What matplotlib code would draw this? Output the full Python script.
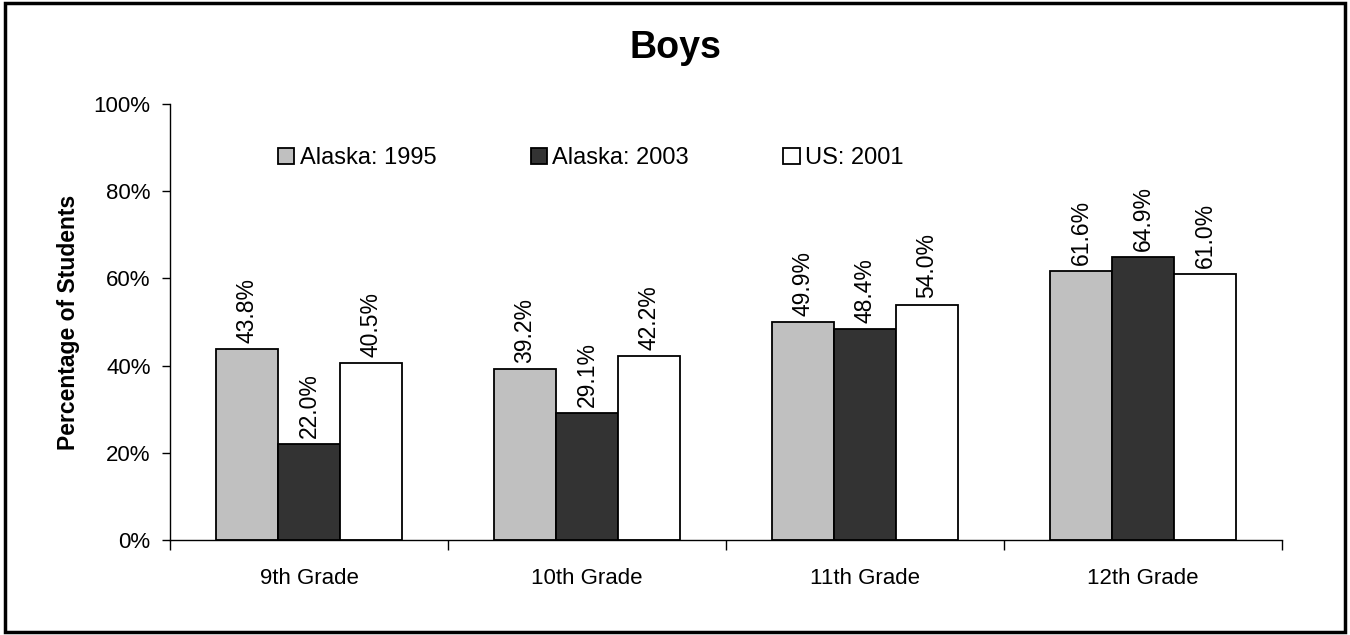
import numpy as np
import matplotlib
matplotlib.use('Agg')
import matplotlib.pyplot as plt
from matplotlib.patches import Rectangle

plt.rcParams['font.family'] = ['Liberation Sans', 'DejaVu Sans']

grades = ['9th Grade', '10th Grade', '11th Grade', '12th Grade']
series_names = ['Alaska: 1995', 'Alaska: 2003', 'US: 2001']
ak_1995 = [43.8, 39.2, 49.9, 61.6]
ak_2003 = [22.0, 29.1, 48.4, 64.9]
us_2001 = [40.5, 42.2, 54.0, 61.0]
colors = ['#C0C0C0', '#333333', '#FFFFFF']

fig = plt.figure(figsize=(13.5, 6.35), dpi=100)
ax = fig.add_axes([0.1259, 0.1496, 0.8237, 0.6866])

# border round the whole picture
fig.patches.append(Rectangle((0.004, 0.005), 0.992, 0.99, transform=fig.transFigure,
                             fill=False, edgecolor='black', linewidth=2.5))

centers = np.arange(len(grades)) + 0.5
w = 0.223
for k, (vals, name) in enumerate(zip([ak_1995, ak_2003, us_2001], series_names)):
    xs = centers + (k - 1) * w
    ax.bar(xs, vals, width=w, color=colors[k], edgecolor='black', linewidth=1.3, label=name)
    for x, v in zip(xs, vals):
        ax.text(x, v + 1.4, '%.1f%%' % v, rotation=90, ha='center', va='bottom', fontsize=16.5)

ax.set_xlim(0, 4)
ax.set_ylim(0, 100)
ax.set_yticks(np.arange(0, 101, 20))
ax.set_yticklabels(['%d%%' % t for t in range(0, 101, 20)], fontsize=16)
ax.tick_params(axis='y', direction='out', length=6, width=1, pad=8)

ax.set_xticks(np.arange(0, 5))
ax.set_xticklabels([])
ax.tick_params(axis='x', which='major', direction='out', length=7, width=1)
ax.set_xticks(centers, minor=True)
ax.set_xticklabels(grades, minor=True, fontsize=16)
ax.tick_params(axis='x', which='minor', length=0, pad=20)

for s in ['top', 'right']:
    ax.spines[s].set_visible(False)
ax.spines['left'].set_linewidth(1)
ax.spines['bottom'].set_linewidth(1)

ax.set_ylabel('Percentage of Students', fontsize=16.5, fontweight='bold', labelpad=10)
fig.text(0.5, 0.925, 'Boys', ha='center', va='center', fontsize=27, fontweight='bold')

ax.legend(loc='center left', bbox_to_anchor=(0.097, 0.876), ncol=3, frameon=False,
          fontsize=17, handlelength=0.7, handleheight=0.7, handletextpad=0.22,
          columnspacing=4.0, borderaxespad=0, borderpad=0)

fig.savefig('out.png', dpi=100)
